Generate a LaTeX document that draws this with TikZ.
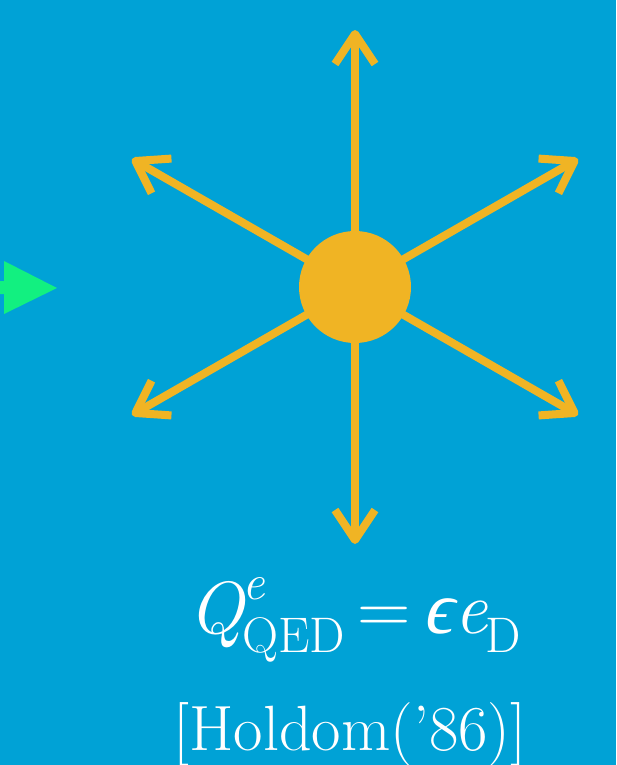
\documentclass[tikz,border=0pt]{standalone}
\usepackage{fontspec}
\newfontfamily\tmi{Liberation Serif}[FakeSlant=0.22]
\usetikzlibrary{arrows.meta}
\definecolor{bgblue}{RGB}{0,162,214}
\definecolor{sunyellow}{RGB}{240,180,36}
\definecolor{arrgreen}{RGB}{18,240,128}
\newcommand{\scr}[1]{{\fontsize{25pt}{25pt}\selectfont #1}}
\tikzset{
  ray/.style={draw=sunyellow, line width=4pt, -{Straight Barb[length=15pt,width=20pt,line join=round]}},
  lbl/.style={text=white, anchor=base, inner sep=0pt}
}
\begin{document}
\begin{tikzpicture}[x=0.5pt,y=-0.5pt]
\fill[bgblue] (0,0) rectangle (616,765);
\useasboundingbox (0,0) rectangle (616,765);
% green incoming arrow
\fill[arrgreen] (-5,281) -- (4,281) -- (4,261) -- (57,288) -- (4,314) -- (4,294) -- (-5,294) -- cycle;
\coordinate (o) at (355,287);
\coordinate (tU) at (355,30);
\coordinate (tD) at (355,544);
\coordinate (tUR) at (578,159);
\coordinate (tUL) at (132,159);
\coordinate (tDL) at (132,415);
\coordinate (tDR) at (578,415);
\foreach \t in {tU,tD,tUR,tUL,tDL,tDR} {\draw[ray] (o) -- (\t);}
\node[circle, fill=sunyellow, minimum size=56pt, inner sep=0pt] (sun) at (o) {};
\node[lbl] (eq) at (355,633) {\fontsize{37pt}{42pt}\selectfont
  {\itshape Q}\kern-1pt\rlap{\raisebox{17pt}{\scr{\itshape e}}}\raisebox{-9.5pt}{\scr{QED}}\kern6pt=\kern6pt{\tmi ϵ}\kern1pt{\itshape e}\kern-1pt\raisebox{-9.5pt}{\scr{D}}};
\node[lbl] (ref) at (350,750) {\fontsize{32pt}{36pt}\selectfont [Holdom(’86)]};
\end{tikzpicture}
\end{document}
